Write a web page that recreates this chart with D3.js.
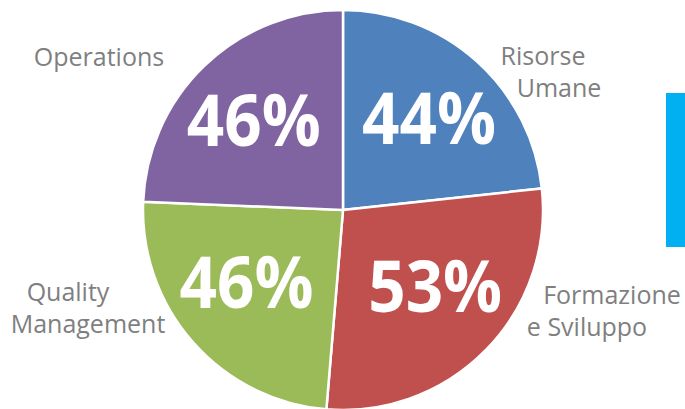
<!DOCTYPE html>
<html lang="en">
<head>
<meta charset="utf-8">
<style>
	body { margin: 0; background: white; }
	svg { display: block; }
	.slice { stroke: white; stroke-width: 2.5px; }
	.pct { fill: white; font-family: "Open Sans", sans-serif; font-weight: bold; font-size: 72px; }
	.cat { fill: #7f7f7f; font-family: "Open Sans", sans-serif; font-size: 25px; }
</style>
<script src="https://d3js.org/d3.v7.min.js"></script>
</head>
<body>
<script>
var categories = ["Risorse Umane", "Formazione e Sviluppo", "Quality Management", "Operations"];
var values = [44, 53, 46, 46];
var colors = ["#4f81bd", "#c0504d", "#9bbb59", "#8064a2"];
// label lines and where each line is centred
var labelLines = [["Risorse", "Umane"], ["Formazione", "e Sviluppo"], ["Quality", "Management"], ["Operations"]];
var labelPos = [
	{x: [543, 559], y: 65},
	{x: [612, 587], y: 304},
	{x: [68, 88], y: 301},
	{x: [99], y: 66}
];

var width = 685, height = 409;
var cx = 343, cy = 210, r = 200;

var svg = d3.select("body").append("svg")
	.attr("width", width)
	.attr("height", height);

// cyan bar on the right
svg.append("rect")
	.attr("x", 666).attr("y", 93)
	.attr("width", 19).attr("height", 154)
	.attr("fill", "#00b0f0");

var pie = d3.pie().sort(null).value(function(d) { return d; });
var arc = d3.arc().innerRadius(0).outerRadius(r);
var labelArc = d3.arc().innerRadius(0).outerRadius(250);

var g = svg.append("g").attr("transform", "translate(" + cx + "," + cy + ")");

var arcs = pie(values);

g.selectAll("path")
	.data(arcs)
	.enter().append("path")
	.attr("class", "slice")
	.attr("d", arc)
	.attr("fill", function(d, i) { return colors[i]; });

g.selectAll("text.pct")
	.data(arcs)
	.enter().append("text")
	.attr("class", "pct")
	.attr("text-anchor", "middle")
	.attr("textLength", 134)
	.attr("lengthAdjust", "spacingAndGlyphs")
	.attr("x", function(d) { return labelArc.centroid(d)[0] * 1.03; })
	.attr("y", function(d) { return labelArc.centroid(d)[1] * 0.935 + 20.5; })
	.text(function(d) { return d.data + "%"; });

categories.forEach(function(c, i) {
	var p = labelPos[i];
	var t = svg.append("text")
		.attr("class", "cat")
		.attr("text-anchor", "middle");
	labelLines[i].forEach(function(line, j) {
		t.append("tspan")
			.attr("x", p.x[j])
			.attr("y", p.y + j * 31.5)
			.text(line);
	});
});
</script>
</body>
</html>
